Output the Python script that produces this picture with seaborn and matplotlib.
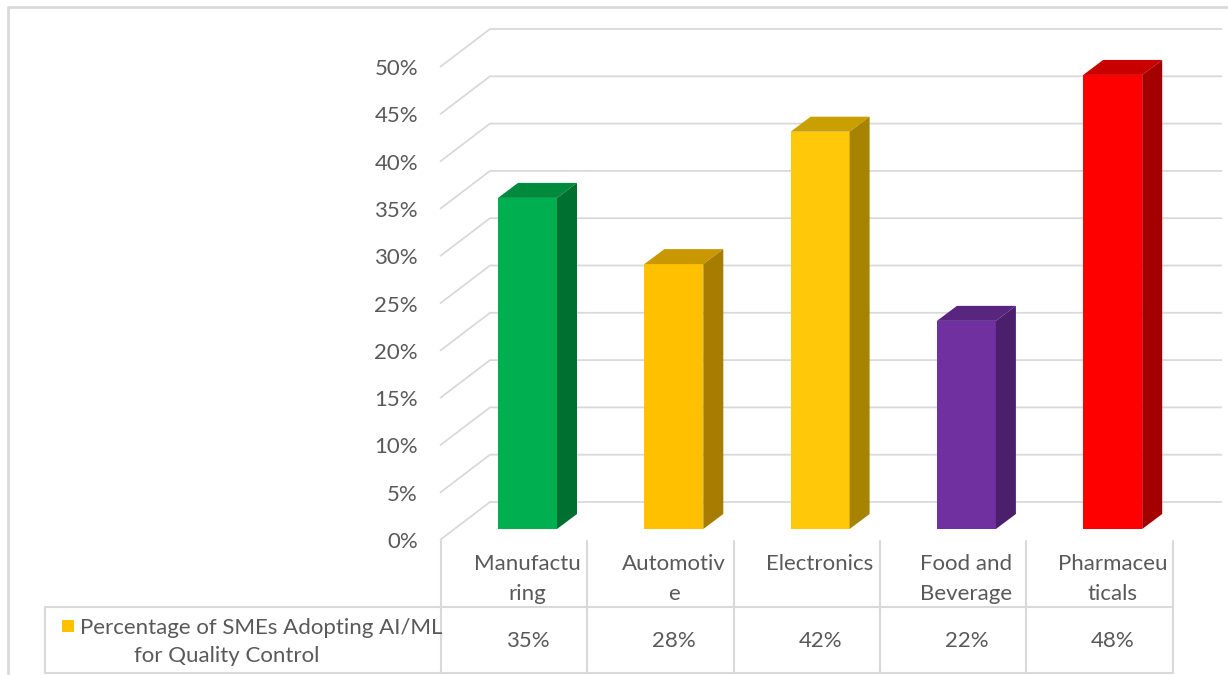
import matplotlib
matplotlib.use("Agg")
import matplotlib.pyplot as plt
import seaborn as sns
from matplotlib.patches import Polygon, Rectangle

# ---- data ----
categories = ["Manufacturing", "Automotive", "Electronics", "Food and Beverage", "Pharmaceuticals"]
header_labels = ["Manufactu\nring", "Automotiv\ne", "Electronics", "Food and\nBeverage", "Pharmaceu\nticals"]
values = [0.35, 0.28, 0.42, 0.22, 0.48]
value_labels = ["35%", "28%", "42%", "22%", "48%"]
series_name_1 = "Percentage of SMEs Adopting AI/ML"
series_name_2 = "for Quality Control"
ticks = [0.0, 0.05, 0.10, 0.15, 0.20, 0.25, 0.30, 0.35, 0.40, 0.45, 0.50]
tick_labels = ["0%", "5%", "10%", "15%", "20%", "25%", "30%", "35%", "40%", "45%", "50%"]

front_colors = ["#00B050", "#FFC000", "#FFC90A", "#7030A0", "#FF0000"]
top_colors = ["#008A3E", "#C99700", "#C9A000", "#59267F", "#C80000"]
side_colors = ["#007030", "#A67D00", "#A68300", "#4B1F6B", "#A50000"]

sns.set_theme(style="white")
plt.rcParams['font.family'] = ['Lato', 'DejaVu Sans']
TXT = "#595959"
GRID = "#d9d9d9"
FS = 16

W, H = 1228, 675
fig = plt.figure(figsize=(W / 100, H / 100), dpi=100)
ax = fig.add_axes([0, 0, 1, 1])

# pixel geometry of the 3-D frame
X0, STEP = 527.5, 146.3     # pixel centre of first bar, pixels per category
Y0, SCALE = 529.0, 946.0    # pixel of value 0 on bar front, pixels per unit


def dx(p):
    return (p - X0) / STEP


def dy(p):
    return (Y0 - p) / SCALE


sns.barplot(x=categories, y=values, hue=categories, palette=front_colors,
            width=59 / STEP, saturation=1, legend=False, ax=ax, zorder=3,
            edgecolor="none")

ax.set_xlim(dx(0), dx(W))
ax.set_ylim(dy(H), dy(0))
ax.axis("off")

# back wall / side wall gridlines
front_off = -11 / SCALE
back_off = 27 / SCALE
for v in ticks:
    ax.plot([dx(440), dx(490), dx(1222)], [v + front_off, v + back_off, v + back_off],
            color=GRID, lw=1.3, zorder=1, solid_capstyle="butt")

for v, lab in zip(ticks, tick_labels):
    ax.text(dx(418), v + front_off - 2 / SCALE, lab, ha="right", va="center",
            fontsize=FS, color=TXT)

# 3-D faces derived from the bars
ddx = 20 / STEP
ddy = 15 / SCALE
for i, patch in enumerate(ax.patches[:len(values)]):
    x = patch.get_x()
    w = patch.get_width()
    h = patch.get_height()
    top = Polygon([(x, h), (x + w, h), (x + w + ddx, h + ddy), (x + ddx, h + ddy)],
                  closed=True, facecolor=top_colors[i], edgecolor="none", zorder=3)
    side = Polygon([(x + w, 0), (x + w, h), (x + w + ddx, h + ddy), (x + w + ddx, ddy)],
                   closed=True, facecolor=side_colors[i], edgecolor="none", zorder=3)
    ax.add_patch(top)
    ax.add_patch(side)

# data table
col_edges = [441 + STEP * k for k in range(len(categories) + 1)]
for xe in col_edges:
    ax.plot([dx(xe), dx(xe)], [dy(541), dy(673)], color=GRID, lw=1.5, zorder=2)
ax.plot([dx(45), dx(col_edges[-1])], [dy(607), dy(607)], color=GRID, lw=1.5, zorder=2)
ax.plot([dx(45), dx(col_edges[-1])], [dy(673), dy(673)], color=GRID, lw=1.5, zorder=2)
ax.plot([dx(45), dx(45)], [dy(607), dy(673)], color=GRID, lw=1.5, zorder=2)

for i, (hl, vl) in enumerate(zip(header_labels, value_labels)):
    cx = i
    ax.text(cx, dy(554), hl, ha="center", va="top", fontsize=FS, color=TXT,
            linespacing=1.6)
    ax.text(cx, dy(641), vl, ha="center", va="center", fontsize=FS, color=TXT)

# legend key in table
ax.add_patch(Rectangle((dx(62), dy(632)), 12 / STEP, 12 / SCALE,
                       facecolor=front_colors[1], edgecolor="none", zorder=3))
ax.text(dx(80), dy(628), series_name_1, ha="left", va="center", fontsize=FS, color=TXT)
ax.text(dx(227), dy(656), series_name_2, ha="center", va="center", fontsize=FS, color=TXT)

# outer chart border
ax.plot([dx(8), dx(8), dx(W)], [dy(H), dy(7), dy(7)], color=GRID, lw=2, zorder=1)

fig.savefig("out.png", dpi=100)
